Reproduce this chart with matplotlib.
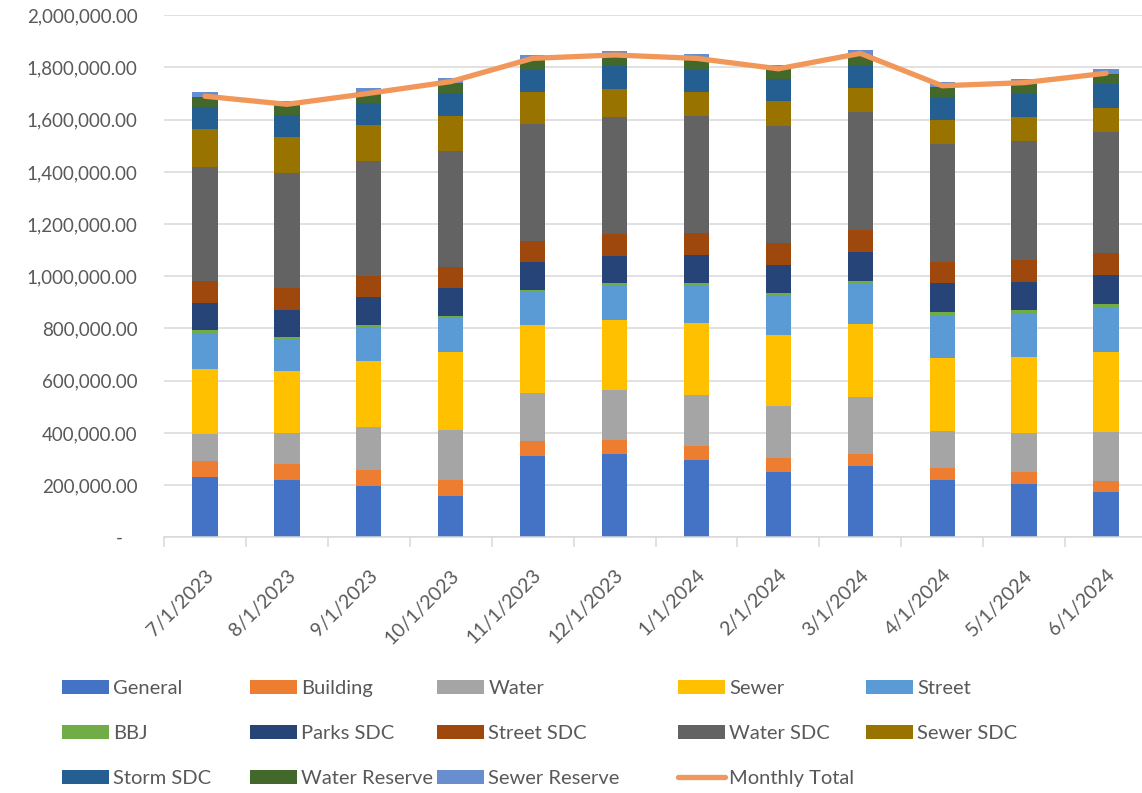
"""Monthly revenue by fund, stacked bars with the monthly total line."""

import matplotlib.pyplot as plt
from matplotlib.ticker import FuncFormatter, MultipleLocator

plt.rcParams["font.family"] = ["Lato", "DejaVu Sans"]

MONTHS = ["7/1/2023", "8/1/2023", "9/1/2023", "10/1/2023", "11/1/2023", "12/1/2023",
          "1/1/2024", "2/1/2024", "3/1/2024", "4/1/2024", "5/1/2024", "6/1/2024"]

# values in thousands
general = [231, 218, 198, 159, 313, 320, 297, 251, 273, 221, 203, 175]
building = [62, 63, 59, 59, 57, 54, 54, 52, 47, 46, 48, 42]
water = [104, 119, 167, 193, 183, 192, 195, 201, 216, 141, 147, 188]
sewer = [249, 237, 253, 299, 260, 267, 276, 271, 282, 280, 293, 304]
street = [138, 122, 130, 133, 127, 131, 145, 152, 156, 164, 167, 173]
bbj = [10, 7, 8, 6, 8, 9, 6, 10, 8, 10, 12, 12]
parks_sdc = [105, 106, 105, 105, 106, 106, 110, 107, 110, 111, 108, 110]
street_sdc = [82, 82, 80, 83, 82, 82, 83, 85, 84, 83, 84, 85]
water_sdc = [439, 442, 443, 443, 446, 448, 449, 448, 452, 452, 456, 463]
sewer_sdc = [143, 137, 135, 135, 123, 110, 90, 93, 92, 92, 92, 93]
storm_sdc = [87, 84, 85, 86, 87, 85, 87, 87, 88, 88, 90, 91]
water_reserve = [38, 38, 44, 41, 37, 37, 43, 36, 40, 39, 36, 39]
sewer_reserve = [17, 17, 13, 17, 19, 22, 16, 17, 18, 19, 20, 18]
monthly_total = [1690, 1659, 1701, 1746, 1835, 1848, 1835, 1795, 1854, 1730, 1742, 1778]

SERIES = [
    ("General", general, "#4472C4"),
    ("Building", building, "#ED7D31"),
    ("Water", water, "#A5A5A5"),
    ("Sewer", sewer, "#FFC000"),
    ("Street", street, "#5B9BD5"),
    ("BBJ", bbj, "#70AD47"),
    ("Parks SDC", parks_sdc, "#264478"),
    ("Street SDC", street_sdc, "#9E480E"),
    ("Water SDC", water_sdc, "#636363"),
    ("Sewer SDC", sewer_sdc, "#997300"),
    ("Storm SDC", storm_sdc, "#255E91"),
    ("Water Reserve", water_reserve, "#43682B"),
    ("Sewer Reserve", sewer_reserve, "#698ED0"),
]

TEXT = "#595959"
GRID = "#D9D9D9"

# left edge (px) of each legend column, as in the original layout
LEGEND_COLS = [62, 250, 437, 678, 866]


def money(v, _pos):
    if abs(v) < 1:
        return "-   "
    return f"{v:,.2f}"


def main() -> None:
    fig = plt.figure(figsize=(11.42, 7.93), dpi=100)
    ax = fig.add_axes([164 / 1142, 1 - 537.3 / 793, 983 / 1142, 522 / 793])

    x = list(range(len(MONTHS)))
    bottom = [0.0] * len(MONTHS)
    handles = []
    for name, vals, color in SERIES:
        vals = [v * 1000 for v in vals]
        bars = ax.bar(x, vals, 0.31, bottom=bottom, color=color, label=name, zorder=2)
        handles.append(bars)
        bottom = [b + v for b, v in zip(bottom, vals)]

    (line,) = ax.plot(x, [v * 1000 for v in monthly_total], color="#F1975A", lw=3.8,
                      solid_capstyle="round", solid_joinstyle="round", zorder=3,
                      label="Monthly Total")
    handles.append(line)

    ax.set_xlim(-0.5, len(MONTHS) - 0.5)
    ax.set_ylim(0, 2_000_000)
    ax.yaxis.set_major_locator(MultipleLocator(200_000))
    ax.yaxis.set_major_formatter(FuncFormatter(money))
    ax.grid(axis="y", color=GRID, lw=1.1, zorder=0)
    ax.set_axisbelow(True)

    for side in ("left", "right", "top"):
        ax.spines[side].set_visible(False)
    ax.spines["bottom"].set_color(GRID)
    ax.spines["bottom"].set_linewidth(1.1)

    ax.tick_params(axis="y", length=0, pad=19, labelsize=13.5, labelcolor=TEXT)
    ax.set_xticks(x)
    ax.set_xticklabels(MONTHS, rotation=45, ha="right", va="top",
                       rotation_mode="anchor", fontsize=14, color=TEXT)
    ax.tick_params(axis="x", which="major", length=0, pad=21)
    ax.set_xticks([i - 0.5 for i in range(len(MONTHS) + 1)], minor=True)
    ax.tick_params(axis="x", which="minor", length=7, width=1.1, color=GRID)

    # legend laid out row by row: one small legend per column
    for col, left in enumerate(LEGEND_COLS):
        items = handles[col::5]
        fig.legend(items, [h.get_label() for h in items],
                   loc="upper left", bbox_to_anchor=(left / 1142, 1 - 679.5 / 793),
                   ncol=1, frameon=False, fontsize=14.5, labelcolor=TEXT,
                   handlelength=2.35, handleheight=0.7, handletextpad=0.2,
                   labelspacing=1.4, borderpad=0, borderaxespad=0)

    fig.savefig("out.png", dpi=100)


if __name__ == "__main__":
    main()
